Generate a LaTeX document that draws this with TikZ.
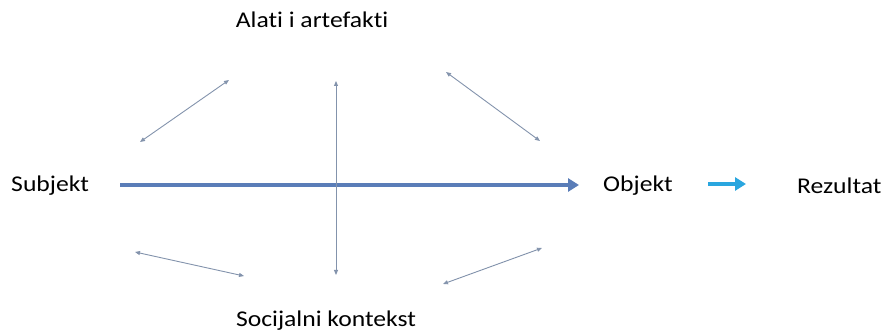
\documentclass[tikz,border=0pt]{standalone}
\usepackage{fontspec}
\setmainfont[Ligatures=NoCommon]{Carlito}
\usetikzlibrary{arrows.meta}
\definecolor{thinc}{HTML}{8393AC}
\definecolor{mainc}{HTML}{5A7DB8}
\definecolor{cyanc}{HTML}{2AA6DF}
\tikzset{
  lbl/.style={font=\fontsize{22.5}{26}\selectfont, inner sep=0pt, xscale=1.14},
  thin arrow/.style={draw=thinc, line width=0.9pt, {Triangle[length=5pt,width=4pt]}-{Triangle[length=5pt,width=4pt]}},
}
\begin{document}
\begin{tikzpicture}[x=1pt,y=-1pt]
\useasboundingbox (0,0) rectangle (889,336);
\node[lbl] (alati) at (312,20) {Alati i artefakti};
\node[lbl,anchor=west] (subj) at (11,186) {Subjekt};
\node[lbl,anchor=west] (obj) at (603,186) {Objekt};
\node[lbl,anchor=west] (rez) at (797,186) {Rezultat};
\node[lbl] (soc) at (326,321) {Socijalni kontekst};
\coordinate (ms) at (120,185);
\coordinate (me) at (579,185);
\draw[mainc, line width=4pt, -{Triangle[length=11pt,width=13pt]}] (ms) -- (me);
\coordinate (cs) at (708,184);
\coordinate (ce) at (746,184);
\draw[cyanc, line width=4pt, -{Triangle[length=11pt,width=13pt]}] (cs) -- (ce);
\coordinate (vt) at (336,81);
\coordinate (vb) at (336,275);
\draw[thin arrow] (vb) -- (vt);
\coordinate (tl1) at (140,142);
\coordinate (tl2) at (229,80);
\draw[thin arrow] (tl1) -- (tl2);
\coordinate (tr1) at (446,72);
\coordinate (tr2) at (540,141);
\draw[thin arrow] (tr1) -- (tr2);
\coordinate (bl1) at (135,252);
\coordinate (bl2) at (244,276);
\draw[thin arrow] (bl1) -- (bl2);
\coordinate (br1) at (542,248);
\coordinate (br2) at (443,284);
\draw[thin arrow] (br1) -- (br2);
\end{tikzpicture}
\end{document}
